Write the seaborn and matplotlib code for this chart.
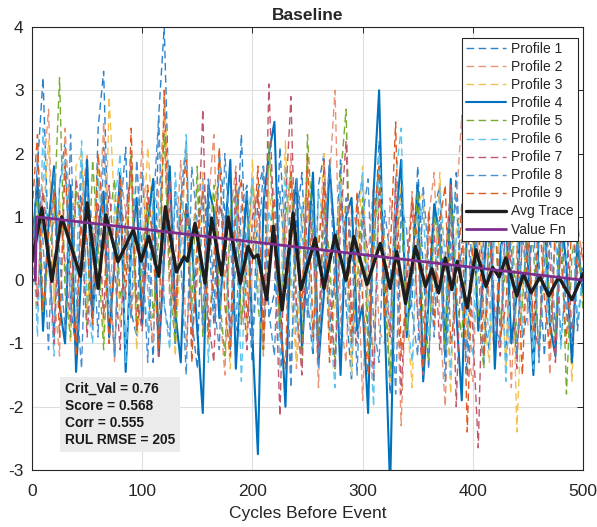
import matplotlib
matplotlib.use('Agg')
import matplotlib.pyplot as plt
import seaborn as sns
import pandas as pd

# ----------- Data -----------
cycles = list(range(0, 501, 5))

profile_1 = [0.2, 1.8, 3.2, 0.5, -0.9, 1.5, 2.2, -0.4, -1.1, 1.9,
             0.6, -0.8, 2.4, 3.3, 0.1, -1.2, 1.0, 2.1, -0.5, -0.9,
             1.7, 0.4, -1.3, 2.6, 4.0, 0.8, -1.0, 1.3, 2.2, -0.6,
             -1.4, 1.6, 0.9, -0.7, 2.0, 1.1, -1.1, 0.3, 2.3, 0.0,
             -1.3, 1.4, 1.8, -0.6, -0.2, 2.1, 0.5, -1.5, 0.9, 1.7,
             -0.3, -1.2, 1.5, 2.0, -0.8, 0.2, 1.9, -0.4, -1.6, 1.2,
             1.6, -0.9, 0.4, 2.2, 0.1, -1.8, 1.0, 1.4, -0.7, -0.3,
             1.8, 0.2, -1.4, 1.1, 1.5, -1.0, 0.0, 1.7, -0.2, -1.5,
             0.8, 1.9, -0.6, -1.1, 1.3, 0.6, -1.3, 0.9, 1.2, -0.9,
             -0.5, 1.5, 0.3, -1.2, 0.7, 1.1, -1.0, 0.1, 1.4, -0.8,
             0.2]
profile_2 = [0.9, -0.3, 1.6, 2.7, -0.2, -1.2, 2.4, 0.8, -0.9, 1.2,
             2.0, -0.5, 0.4, 2.5, 0.3, -1.3, 1.7, 1.1, -0.6, 0.5,
             2.2, -0.2, -1.0, 1.4, 2.6, -0.4, 0.3, 1.9, -1.1, 0.6,
             1.5, -0.8, 1.2, 2.3, -0.3, -1.5, 1.0, 1.8, -0.7, 0.2,
             1.6, 0.7, -1.2, 1.9, 1.3, -0.9, 0.4, 2.0, -1.4, -0.1,
             1.7, 0.5, -1.7, 1.1, 1.6, 3.0, -0.6, -1.3, 1.2, 0.8,
             -1.9, 0.4, 1.5, -0.8, -1.0, 1.3, 0.6, -2.3, 0.2, 1.4,
             -0.5, -1.4, 1.0, 1.7, -0.6, -2.0, 0.9, 1.2, 2.6, -1.1,
             -1.6, 0.7, 1.5, -0.4, -1.2, 1.1, 0.3, -1.7, 0.5, 1.3,
             -0.7, -0.9, 1.0, 0.4, -1.5, 0.8, 1.2, -0.6, -1.0, 0.9,
             0.3]
profile_3 = [1.2, -0.6, 0.9, 2.2, -0.4, 1.3, 0.2, -1.0, 1.8, 2.0,
             -0.5, 0.6, 1.9, -0.9, 2.9, 1.1, -0.7, 0.8, 1.6, -1.1,
             0.3, 2.1, 0.9, -0.8, 3.0, 1.0, -1.2, 0.5, 2.1, -0.6,
             -0.1, 1.7, -1.0, 0.4, 2.0, -0.3, -1.4, 1.5, 0.7, -0.9,
             1.9, 0.1, -1.1, 1.4, 0.8, -0.5, 2.2, -0.2, -1.3, 1.0,
             1.5, -0.7, 0.6, 2.0, -1.0, -0.4, 1.6, 0.9, -1.5, 0.3,
             1.8, -0.3, -1.2, 1.3, 0.7, -1.6, 0.2, 1.5, -0.5, -1.7,
             1.2, 1.4, -0.9, -0.2, 1.7, 0.0, -1.8, 0.8, 1.1, -1.0,
             0.5, 1.6, -0.6, -1.3, 1.0, 0.4, -1.4, 1.3, -2.4, -0.2,
             0.9, -1.1, 0.6, 1.4, -0.8, -1.2, 1.0, 0.3, -1.6, 0.7,
             -0.3]
profile_4 = [0.5, 1.6, -0.8, 0.9, 1.8, -0.4, -1.0, 1.5, -1.45, 0.2,
             1.9, -0.6, 0.8, 1.4, -0.9, 0.3, 1.7, -1.45, 0.5, 1.3,
             -0.7, 0.9, 1.6, -1.2, 0.4, 1.8, -0.5, -1.3, 1.2, 0.6,
             -0.8, -2.1, 1.5, 1.1, -0.6, 0.7, 1.9, -1.4, 0.2, 1.4,
             -0.9, -2.75, 1.2, 2.0, 2.5, -0.3, -2.0, 0.8, 1.6, -1.1,
             0.4, 1.7, -1.3, -0.2, 1.8, 0.6, -1.5, 1.0, 1.3, -0.8,
             -0.4, -2.1, 1.4, 3.0, -0.6, -3.3, 0.9, 1.9, -0.9, 0.2,
             1.5, -1.6, -0.3, 1.2, 0.7, -1.2, 1.6, -0.5, -1.9, 1.0,
             1.3, -0.8, 0.1, 1.5, -1.4, 0.4, 1.1, -1.0, -0.2, 1.4,
             0.3, -1.5, 0.8, 1.0, -0.7, -1.2, 1.1, 0.2, -1.3, 0.6,
             -0.2]
profile_5 = [0.6, 1.3, -0.5, 0.4, 1.0, 3.2, -0.2, -0.9, 1.4, 0.8,
             -0.7, 1.9, 0.5, -1.1, 0.9, 1.6, -0.3, 0.2, 2.0, -0.8,
             0.4, 1.2, -0.6, 0.7, 2.3, -0.1, -1.0, 1.3, 0.9, -0.4,
             1.8, -0.9, 0.3, 1.5, -0.2, -1.2, 1.1, 1.4, -0.7, 0.5,
             1.6, -0.4, -1.1, 2.2, 0.6, -0.8, 1.0, 1.7, -0.5, -1.3,
             2.3, 0.7, -0.9, 1.2, 0.4, -1.4, 1.6, 2.7, -0.6, -0.1,
             1.3, -1.2, 0.5, 1.7, -0.3, -1.5, 0.8, 1.1, -0.8, 0.3,
             1.4, -0.6, -1.3, 1.0, 0.6, -1.1, 1.5, -0.2, -0.9, 0.9,
             1.2, -0.5, -1.4, 0.7, 1.0, -0.7, 0.2, 1.3, -1.0, -0.4,
             1.1, 0.5, -1.2, 0.8, -0.3, -0.9, 1.2, -1.8, 0.4, 0.9,
             -0.5]
profile_6 = [1.0, -0.9, 2.4, 0.3, -1.2, 1.5, 1.9, -0.5, 0.1, 2.2,
             -0.3, -1.0, 1.6, 0.9, -0.6, 1.2, 2.0, -1.3, 0.4, 1.8,
             0.2, -0.8, 1.4, 1.1, -0.4, -1.1, 1.7, 0.5, 2.3, -0.7,
             0.6, 1.5, -1.3, 0.2, 1.9, 0.3, -0.9, 1.3, -1.6, 0.8,
             1.6, -0.2, -1.0, 1.1, 0.7, -1.4, 1.8, 0.1, -0.8, 1.2,
             0.5, -1.1, 1.4, 0.9, -0.6, -1.7, 1.5, 0.2, -1.2, 1.0,
             1.7, -0.4, -2.0, 2.0, 0.6, -0.8, 1.6, 2.4, -0.5, -1.3,
             0.9, 1.2, -0.9, -0.3, 1.4, 0.4, -1.5, 0.7, 1.0, -0.7,
             -1.2, 1.3, 0.3, -1.0, 0.8, 1.1, -1.6, 0.2, 0.9, -0.8,
             0.6, -1.4, 1.0, 0.5, -0.9, 0.7, -1.1, 0.4, 1.0, -0.6,
             0.1]
profile_7 = [0.8, -0.4, 1.4, 0.6, -1.0, 1.1, 0.3, -0.7, 1.6, 0.9,
             -0.9, 0.5, 1.2, -0.6, 1.5, 0.2, -1.1, 1.0, 1.8, -0.3,
             -0.8, 1.3, 0.7, -1.2, 0.4, 1.6, -0.5, 0.9, 1.1, -1.0,
             0.2, 2.7, -0.6, -1.3, 1.2, 0.8, -0.9, 1.7, 0.3, -1.1,
             1.0, 1.4, -0.8, 3.1, 0.5, -2.15, 1.2, 2.9, -0.4, -1.5,
             1.3, 0.6, -1.2, 1.9, -0.2, -1.4, 0.9, 2.2, -0.7, -1.0,
             1.1, 0.4, -1.6, 1.4, 0.2, -0.9, 1.6, -1.8, 0.1, 1.2,
             -0.6, -1.5, 1.0, 0.8, -1.1, 0.3, 1.5, -2.0, 0.6, 1.1,
             -0.8, -2.65, 0.9, 1.3, -0.5, -1.2, 1.0, 0.2, -1.4, 0.7,
             1.0, -0.7, -1.1, 0.9, 0.3, -1.3, 0.6, 1.0, -0.9, 0.2,
             0.4]
profile_8 = [-0.3, 2.0, 0.6, -1.1, 1.7, 0.4, -0.8, 2.3, -0.2, -1.4,
             1.5, 0.8, -0.9, 2.1, 0.1, -1.2, 1.3, 0.7, -0.6, 1.9,
             0.5, -1.3, 1.1, 2.6, -0.4, -0.9, 1.4, 0.3, -1.5, 1.8,
             0.9, -0.7, 1.6, -0.3, -1.1, 2.0, 0.6, -0.8, 1.2, 1.5,
             -1.0, 0.3, 1.8, -0.5, -1.2, 1.4, 0.2, -1.7, 1.6, 0.9,
             -0.6, 1.2, -1.4, 0.5, 1.9, -0.2, -1.0, 1.3, 0.6, -1.5,
             1.0, 1.6, -0.7, -1.3, 1.1, 0.4, -1.8, 1.2, 0.8, -0.5,
             -1.2, 1.5, 0.3, -0.9, 1.0, -1.6, 0.6, 1.3, -0.4, -1.1,
             1.4, 0.2, -1.3, 0.9, -0.6, -1.0, 1.2, 0.5, -1.2, 0.8,
             -0.4, 1.1, -1.3, 0.3, 0.8, -0.8, 1.0, -0.5, -1.0, 0.6,
             0.0]
profile_9 = [1.1, 2.3, -0.5, 0.7, 1.4, -0.9, 1.8, 0.2, -1.2, 1.3,
             0.6, -0.7, 2.0, 0.9, -1.0, 0.4, 1.6, -0.3, 2.4, -0.8,
             -0.2, 1.5, 0.5, -1.1, 3.0, 0.3, -0.6, 1.2, 1.9, -1.3,
             0.7, 1.4, -0.9, 0.2, 2.1, -0.4, -1.2, 1.1, 1.6, -0.6,
             0.3, 1.8, -1.1, 0.6, 1.3, -0.8, -1.4, 1.7, 0.4, -0.5,
             2.0, -0.9, 0.5, 1.5, -1.3, 0.1, 1.2, 0.8, -1.0, 1.4,
             -0.3, -1.5, 1.0, 1.8, -0.6, 0.4, 2.5, -1.2, -0.2, 1.3,
             0.6, -1.4, 1.1, -0.7, 0.9, 1.5, -1.0, -0.3, 1.2, -2.4,
             0.5, 1.0, -1.2, 0.2, 1.4, -0.9, -0.4, 1.1, 0.6, -1.5,
             0.8, -0.8, 1.2, -0.3, -1.1, 0.9, 0.4, -1.0, 1.0, 0.1,
             0.6]

avg_x = [0, 9, 18, 27, 44, 50, 60, 67, 78, 92, 99, 106, 115, 121, 131, 138,
         141, 148, 157, 163, 172, 178, 189, 196, 201, 205, 213, 219, 227, 237,
         244, 257, 265, 275, 285, 292, 304, 316, 325, 331, 339, 348, 357, 363,
         369, 375, 381, 386, 395, 403, 412, 418, 424, 430, 440, 446, 453, 461,
         469, 478, 490, 500]
avg_y = [0.3, 1.14, -0.02, 1.0, 0.06, 1.22, -0.13, 1.03, 0.29, 0.8, 0.3, 0.69,
         0.06, 1.16, 0.13, 0.37, 0.3, 0.9, -0.05, 0.98, 0.08, 1.0, -0.05, 0.53,
         0.35, 0.4, -0.31, 0.85, -0.47, 1.06, -0.15, 0.66, -0.13, 0.71, 0.0,
         0.69, -0.07, 0.58, -0.13, 0.45, -0.37, 0.53, -0.1, 0.18, -0.2, 0.35,
         -0.15, 0.3, -0.44, 0.48, -0.1, 0.2, 0.05, 0.35, -0.25, 0.1, -0.2,
         0.05, -0.25, 0.05, -0.31, 0.1]

value_x = [0, 3, 4, 500]
value_y = [0, 0, 1, 0]

profiles = [profile_1, profile_2, profile_3, profile_4, profile_5,
            profile_6, profile_7, profile_8, profile_9]
profile_colors = ['#2A82CC', '#E99377', '#F2C24F', '#0072BD', '#77AC30',
                  '#5EC5F0', '#BF586C', '#4A90CF', '#DD5A22']

stats_text = 'Crit_Val = 0.76\nScore = 0.568\nCorr = 0.555\nRUL RMSE = 205'

# ----------- Plot -----------
sns.set_theme(style='whitegrid')
plt.rcParams['font.family'] = ['Liberation Sans', 'DejaVu Sans']
plt.rcParams['axes.unicode_minus'] = False

fig = plt.figure(figsize=(5.97, 5.27), dpi=100)
ax = fig.add_axes([0.0536, 0.1082, 0.9229, 0.8406])

for p, vals in enumerate(profiles):
    df_p = pd.DataFrame({'cycle': cycles, 'val': vals})
    if p == 3:
        ls, lw = '-', 1.5
    else:
        ls, lw = (0, (5.5, 3.2)), 1.0
    sns.lineplot(data=df_p, x='cycle', y='val', ax=ax, color=profile_colors[p],
                 linestyle=ls, linewidth=lw, label=f'Profile {p + 1}')

sns.lineplot(x=avg_x, y=avg_y, ax=ax, color='#1E1E1E', linewidth=2.4,
             solid_joinstyle='round', label='Avg Trace')
sns.lineplot(x=value_x, y=value_y, ax=ax, color='#7E2F8E', linewidth=2.0,
             label='Value Fn')

ax.set_xlim(0, 500)
ax.set_ylim(-3, 4)
ax.set_xticks(range(0, 501, 100))
ax.set_yticks(range(-3, 5))
ax.grid(True, color='#DEDEDE', linewidth=0.8)
ax.set_facecolor('white')
for s in ax.spines.values():
    s.set_color('#262626')
    s.set_linewidth(0.8)
ax.tick_params(direction='in', top=True, right=True, length=4, width=0.7,
               color='#262626', labelsize=12.5, labelcolor='#262626', pad=6)
ax.tick_params(axis='x', pad=10)
ax.set_xlabel('Cycles Before Event', fontsize=12.5, color='#262626',
              labelpad=5)
ax.set_ylabel('')
ax.set_title('Baseline', fontsize=12.5, fontweight='bold', pad=5)

ax.text(30, -1.6, stats_text, fontsize=9.9, fontweight='bold', va='top',
        ha='left', linespacing=1.3, color='#1A1A1A',
        bbox=dict(boxstyle='square,pad=0.35', facecolor='#EBEBEB',
                  edgecolor='none'))

leg = ax.legend(loc='upper right', bbox_to_anchor=(0.991, 0.975),
                borderaxespad=0, fontsize=10, handlelength=2.9,
                labelspacing=0.29, fancybox=False, framealpha=1,
                edgecolor='#262626', borderpad=0.3, handletextpad=0.36)
leg.get_frame().set_linewidth(0.8)

plt.savefig('out.png', dpi=100)
